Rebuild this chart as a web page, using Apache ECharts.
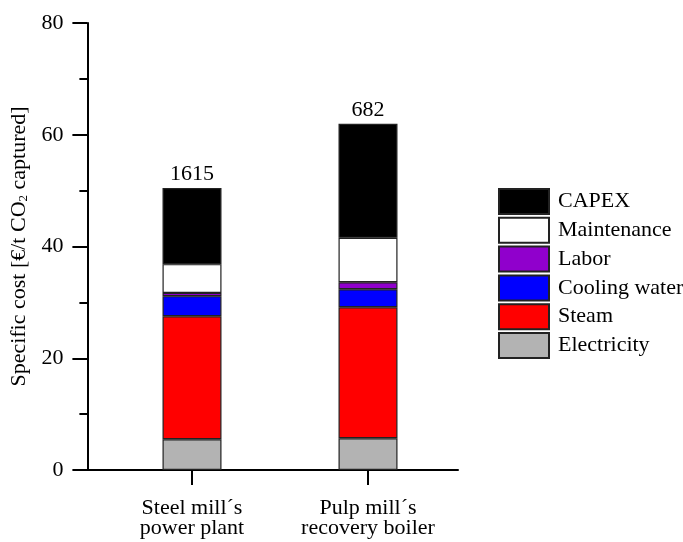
<!DOCTYPE html>
<html>
<head>
<meta charset="utf-8">
<script src="https://cdn.jsdelivr.net/npm/echarts@6/dist/echarts.min.js"></script>
<style>html,body{margin:0;padding:0;background:#fff}#c{width:683px;height:542px}</style>
</head>
<body>
<div id="c"></div>
<script>
const categories = ['Steel mill\u00b4s\npower plant', 'Pulp mill\u00b4s\nrecovery boiler'];
const electricity = [5.5, 5.68];
const steam = [22.03, 23.46];
const coolingWater = [3.58, 3.22];
const labor = [0.59, 1.25];
const maintenance = [5.14, 7.94];
const capex = [13.61, 20.41];
const topLabels = ['1615', '682'];
const yTicks = [0, 80, 20];

const FONT = '"Liberation Serif", "Times New Roman", serif';
const chart = echarts.init(document.getElementById('c'), null, {renderer: 'canvas'});

const seriesDefs = [
  ['Electricity', electricity, '#b3b3b3'],
  ['Steam', steam, '#ff0000'],
  ['Cooling water', coolingWater, '#0000ff'],
  ['Labor', labor, '#9000cc'],
  ['Maintenance', maintenance, '#ffffff'],
  ['CAPEX', capex, '#000000']
];

const series = seriesDefs.map(([name, data, color], i) => {
  const s = {
    name: name,
    type: 'bar',
    stack: 'total',
    xAxisIndex: 1,
    yAxisIndex: 1,
    barWidth: 59,
    data: data,
    itemStyle: {color: color, borderColor: '#222', borderWidth: 1.2},
    emphasis: {disabled: true},
    animation: false
  };
  if (name === 'CAPEX') {
    s.label = {
      show: true, position: 'top', distance: 3,
      formatter: p => topLabels[p.dataIndex],
      fontFamily: FONT, fontSize: 22, color: '#000'
    };
  }
  return s;
});

chart.setOption({
  animation: false,
  textStyle: {fontFamily: FONT},
  grid: [
    {left: 86, width: 372, top: 23, bottom: 72},
    {left: 104, width: 352, top: 23, bottom: 72}
  ],
  xAxis: [
    {gridIndex: 0, type: 'value', min: 0, max: 1,
     axisLine: {show: true, lineStyle: {color: '#000', width: 2}},
     axisTick: {show: false}, axisLabel: {show: false}, splitLine: {show: false}},
    {gridIndex: 1, type: 'category', data: categories,
     axisLine: {show: false},
     axisTick: {show: true, alignWithLabel: true, length: 15, lineStyle: {color: '#000', width: 2}},
     axisLabel: {fontFamily: FONT, fontSize: 22, color: '#000', lineHeight: 20, margin: 28},
     splitLine: {show: false}}
  ],
  yAxis: [
    {gridIndex: 0, type: 'value', min: yTicks[0], max: yTicks[1], interval: yTicks[2],
     name: 'Specific cost [\u20ac/t CO{sub|2} captured]',
     nameLocation: 'middle', nameGap: 42, nameRotate: 90,
     nameTextStyle: {fontFamily: FONT, fontSize: 22, color: '#000',
       rich: {sub: {fontFamily: FONT, fontSize: 13, color: '#000', verticalAlign: 'bottom', padding: [10, 0, 0, 0]}}},
     axisLine: {show: true, lineStyle: {color: '#000', width: 2}},
     axisTick: {show: true, length: 15, lineStyle: {color: '#000', width: 2}},
     minorTick: {show: true, splitNumber: 2, length: 8, lineStyle: {color: '#000', width: 2}},
     axisLabel: {fontFamily: FONT, fontSize: 22, color: '#000', margin: 24},
     splitLine: {show: false}},
    {gridIndex: 1, type: 'value', min: yTicks[0], max: yTicks[1], interval: yTicks[2], show: false}
  ],
  legend: {
    orient: 'vertical',
    left: 493, top: 183,
    itemWidth: 50, itemHeight: 25, itemGap: 1.8,
    icon: 'rect',
    data: ['CAPEX', 'Maintenance', 'Labor', 'Cooling water', 'Steam', 'Electricity'],
    textStyle: {fontFamily: FONT, fontSize: 22, lineHeight: 22, color: '#000', padding: [0, 0, 0, 4]},
    selectedMode: false
  },
  series: series
});
</script>
</body>
</html>
